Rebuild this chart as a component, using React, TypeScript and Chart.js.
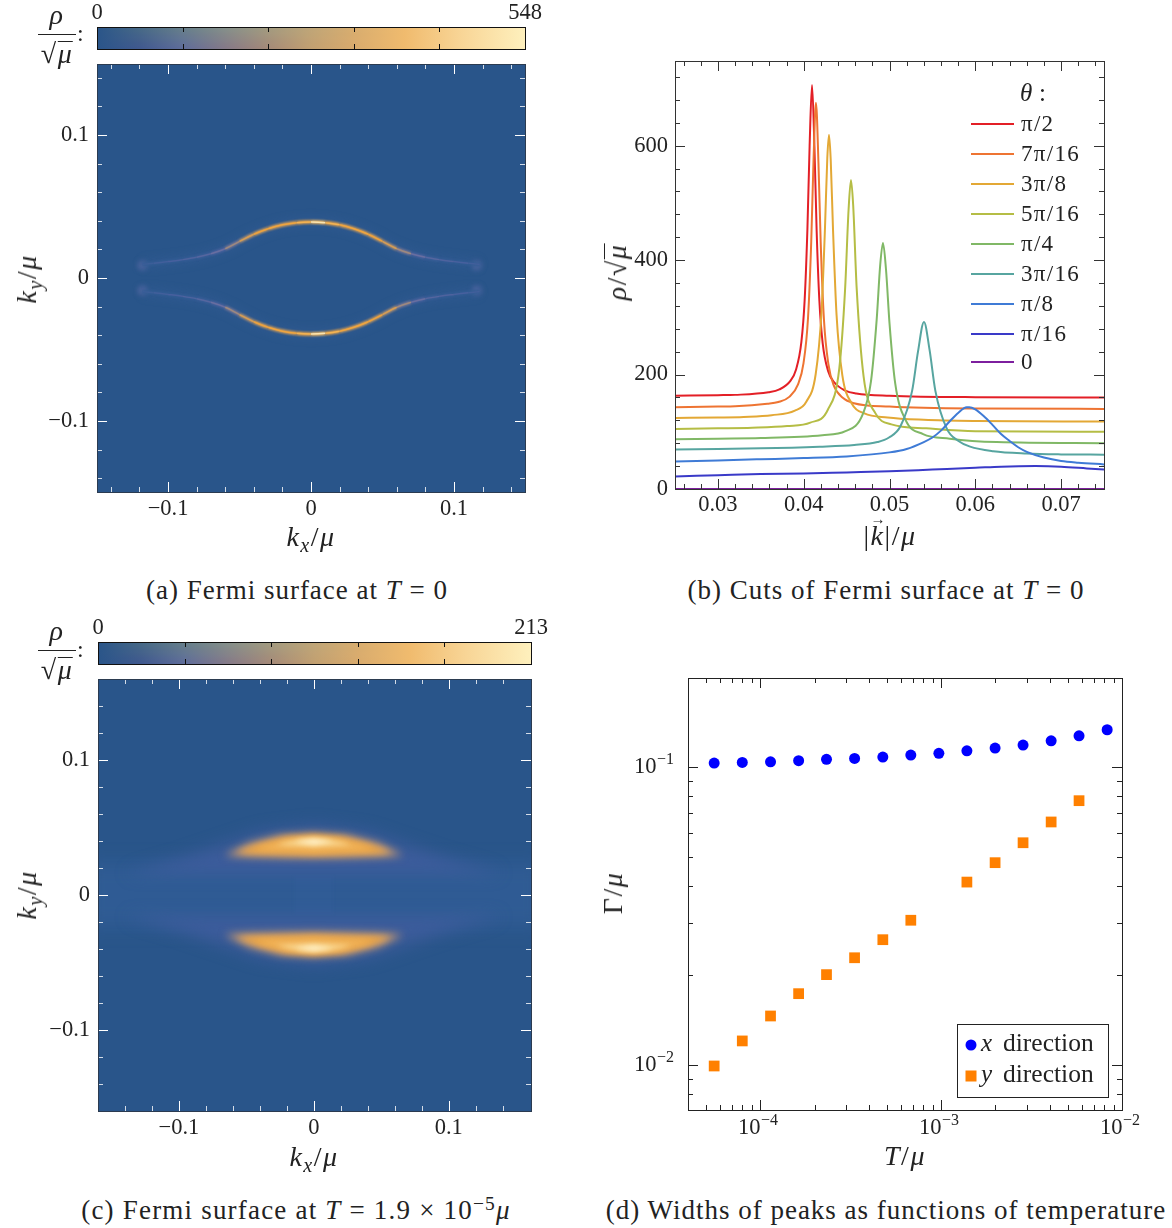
import React, { useEffect, useRef } from "react";
import { Chart, registerables } from "chart.js";

const blurPlugin = {
  id: "blurPlugin",
  beforeDatasetDraw(chart: any, args: any) {
    const b = chart.data.datasets[args.index].blurPx;
    if (b) chart.ctx.filter = `blur(${b}px)`;
  },
  afterDatasetDraw(chart: any) {
    chart.ctx.filter = "none";
  },
};
// registered first, so the blur is already set when the Filler plugin paints
Chart.register(blurPlugin);
Chart.register(...registerables);

const SERIF = '"Liberation Serif", serif';
const TICK_FONT = { family: "Liberation Serif", size: 22.5 };
const PLOT_BG = "#29558a";

// ---- colour bars
const barMaxA = 548;
const barMaxC = 213;
const barRows = ["r0", "r1", "r2", "r3", "r4", "r5", "r6", "r7", "r8", "r9", "r10"];
const barStops = [0, 0.1, 0.2, 0.3, 0.4, 0.5, 0.6, 0.72, 0.85, 1];
const barTopColors = ["#2a5589", "#476a86", "#67808a", "#85908a", "#a39c80", "#bfa678", "#d8ad6f", "#f0bb6e", "#f8d596", "#fef0bd"];
const barBottomColors = ["#2a5589", "#40598f", "#5f6d9a", "#857a88", "#a58a78", "#c2a071", "#d9ab6d", "#f0bb6e", "#f8d596", "#fef0bd"];

// ---- panel (a) : arc of the Fermi surface (right half, mirrored to the left)
const arcAKx = [0, 0.01, 0.02, 0.03, 0.04, 0.05, 0.06, 0.07, 0.08, 0.09, 0.1, 0.11, 0.118];
const arcAKy = [0.0392, 0.0387, 0.0372, 0.0345, 0.0306, 0.0256, 0.0205, 0.017, 0.0145, 0.0128, 0.0115, 0.0103, 0.0095];
const arcAHeat = [0.95, 0.8, 0.74, 0.74, 0.72, 0.62, 0.42, 0.22, 0.14, 0.11, 0.08, 0.05, 0.02];
const blobKx = [-0.118, 0.116, -0.118, 0.116];
const blobKy = [0.0087, 0.0087, -0.0087, -0.0087];
const heatStops = [0, 0.1, 0.25, 0.45, 0.62, 0.75, 0.88, 1];
const heatColors = ["#335c94", "#47609e", "#6a6fa0", "#a08a7c", "#d09c58", "#eea33c", "#f6c069", "#fdf0c8"];

// ---- panel (c) : outlines of the broad crescents, upper half (mirrored for the lower half)
const haloKx = [-0.14, -0.1, -0.07, -0.04, 0, 0.04, 0.07, 0.1, 0.14, 0.1, 0, -0.1];
const haloKy = [0.016, 0.027, 0.037, 0.047, 0.052, 0.047, 0.037, 0.027, 0.016, 0.016, 0.016, 0.016];
const wideKx = [-0.17, 0.17, 0.17, -0.17];
const wideKy = [0.024, 0.024, -0.024, -0.024];
const outerKx = [-0.066, -0.048, -0.025, 0, 0.025, 0.048, 0.066, 0.048, 0.02, 0, -0.02, -0.048];
const outerKy = [0.0295, 0.0385, 0.0445, 0.046, 0.0445, 0.0385, 0.0295, 0.0282, 0.0275, 0.0272, 0.0275, 0.0282];
const orangeKx = [-0.057, -0.04, -0.02, 0, 0.02, 0.04, 0.057, 0.04, 0, -0.04];
const orangeKy = [0.0315, 0.038, 0.043, 0.0445, 0.043, 0.038, 0.0315, 0.0305, 0.0297, 0.0305];
const lightKx = [-0.044, -0.02, 0, 0.02, 0.044, 0.02, 0, -0.02];
const lightKy = [0.034, 0.0405, 0.0425, 0.0405, 0.034, 0.0335, 0.0325, 0.0335];
const coreKx = [-0.028, -0.01, 0, 0.01, 0.028, 0.01, 0, -0.01];
const coreKy = [0.0375, 0.0415, 0.042, 0.0415, 0.0375, 0.0365, 0.036, 0.0365];
const peakKx = [-0.014, 0, 0.014, 0];
const peakKy = [0.0395, 0.0415, 0.0395, 0.0375];
const patchKx = [-0.0148, 0.0148, 0.0148, -0.0148];
const patchKy = [0.014, 0.014, -0.014, -0.014];

// ---- panel (b) : cuts
const cutLabels = ["π/2", "7π/16", "3π/8", "5π/16", "π/4", "3π/16", "π/8", "π/16", "0"];
const cutColors = ["#e31f26", "#ee7432", "#e3a835", "#b5bd45", "#80b866", "#57a5a0", "#3f7bd6", "#3a3ac8", "#7d1f9e"];
const cutRedK = [0.025, 0.03, 0.032, 0.0359, 0.03717, 0.03845, 0.03909, 0.03973, 0.04011, 0.04043, 0.04069, 0.04097, 0.04125, 0.04151, 0.04183, 0.04221, 0.04285, 0.04353, 0.04485, 0.04613, 0.05, 0.06, 0.075];
const cutRedV = [163, 164, 164.5, 169, 174, 189, 208, 257, 330, 453, 600, 706, 598, 451, 328, 255, 206, 187, 172, 167, 163, 160.5, 160];
const cutOrangeK = [0.025, 0.03, 0.032, 0.03576, 0.03704, 0.03832, 0.03934, 0.03998, 0.0405, 0.04088, 0.04114, 0.04143, 0.04172, 0.04198, 0.04236, 0.04288, 0.0435, 0.04459, 0.04586, 0.05, 0.06, 0.075];
const cutOrangeV = [143, 144, 144.5, 149, 152, 161, 183, 220, 298, 433, 572, 675, 570, 431, 296, 218, 181, 159, 150, 144, 140.5, 140];
const cutAmberK = [0.025, 0.03, 0.033, 0.03627, 0.03897, 0.04032, 0.0414, 0.04207, 0.04248, 0.04275, 0.04295, 0.04315, 0.04342, 0.04383, 0.0445, 0.04558, 0.04707, 0.04977, 0.054, 0.06, 0.075];
const cutAmberV = [124, 125, 126, 129, 137, 153, 201, 308, 456, 578, 619, 575, 452, 304, 199, 150, 132, 125, 121, 119, 118];
const cutOliveK = [0.025, 0.03, 0.034, 0.03807, 0.04077, 0.0428, 0.04415, 0.04482, 0.04523, 0.04551, 0.04577, 0.04617, 0.04698, 0.04833, 0.05022, 0.05427, 0.06, 0.075];
const cutOliveV = [105, 106, 107, 110, 116, 138, 211, 348, 488, 540, 495, 352, 197, 133, 113, 106, 101, 100];
const cutGreenK = [0.025, 0.03, 0.035, 0.04217, 0.04487, 0.04689, 0.04784, 0.04851, 0.04892, 0.04924, 0.04959, 0.05, 0.05067, 0.05189, 0.05391, 0.05702, 0.0625, 0.075];
const cutGreenV = [87, 88, 89, 94, 101, 131, 188, 297, 392, 430, 384, 290, 184, 120, 96, 88, 82, 80];
const cutTealK = [0.025, 0.03, 0.035, 0.04184, 0.04589, 0.04859, 0.04994, 0.05129, 0.05264, 0.05332, 0.05402, 0.05467, 0.05534, 0.05669, 0.05804, 0.05939, 0.06209, 0.066, 0.07, 0.075];
const cutTealV = [69, 70, 71, 74, 77, 82, 90, 110, 172, 240, 292, 243, 172, 105, 84, 74, 66, 62, 60.5, 60];
const cutBlueK = [0.025, 0.03, 0.035, 0.04, 0.045, 0.05, 0.052, 0.054, 0.055, 0.056, 0.057, 0.058, 0.059, 0.0593, 0.06, 0.061, 0.062, 0.063, 0.064, 0.065, 0.066, 0.068, 0.07, 0.072, 0.075];
const cutBlueV = [48, 50, 52, 54, 57, 64, 70, 82, 90, 102, 118, 133, 143, 143, 139, 127, 112, 96, 84, 73, 65, 55, 49, 46, 43];
const cutIndigoK = [0.025, 0.03, 0.035, 0.04, 0.045, 0.05, 0.055, 0.06, 0.063, 0.067, 0.07, 0.073, 0.075];
const cutIndigoV = [22, 24, 26, 27, 29, 31, 34, 37, 39, 40, 39, 36, 34];
const cutPurpleK = [0.025, 0.075];
const cutPurpleV = [0, 0];

// ---- panel (d) : widths
const widthT = [5.58e-5, 7.98e-5, 1.143e-4, 1.634e-4, 2.33e-4, 3.33e-4, 4.77e-4, 6.81e-4, 9.73e-4, 1.39e-3, 1.99e-3, 2.84e-3, 4.06e-3, 5.79e-3, 8.28e-3];
const widthX = [0.1031, 0.1036, 0.1041, 0.105, 0.1061, 0.1069, 0.108, 0.1097, 0.1112, 0.1134, 0.1158, 0.1185, 0.1225, 0.1273, 0.1334];
const widthY = [0.00992, 0.01204, 0.0146, 0.01735, 0.0201, 0.0229, 0.02633, 0.0306, null, 0.0411, 0.04775, 0.0557, 0.0654, 0.0771, null];
const logXExponents = ["−4", "−3", "−2"];
const logYExponents = ["−2", "−1"];

const hex = (h: string) => [1, 3, 5].map((i) => parseInt(h.slice(i, i + 2), 16));
const lerpColor = (t: number, stops: number[], colors: string[]) => {
  let i = 0;
  while (i < stops.length - 2 && t > stops[i + 1]) i++;
  const f = Math.max(0, Math.min(1, (t - stops[i]) / (stops[i + 1] - stops[i])));
  const a = hex(colors[i]);
  const b = hex(colors[i + 1]);
  return `rgb(${a.map((v, k) => Math.round(v + (b[k] - v) * f)).join(",")})`;
};
const mirrorRows = (xs: number[], ys: number[]) => {
  const rev = xs.map((_, i) => xs.length - 1 - i);
  return [...rev.slice(0, -1).map((i) => ({ x: -xs[i], y: ys[i] })), ...xs.map((x, i) => ({ x, y: ys[i] }))];
};
const pts = (xs: number[], ys: (number | null)[], sign = 1) => xs.map((x, i) => ({ x, y: ys[i] === null ? null : (ys[i] as number) * sign }));

type Rect = { l: number; t: number; r: number; b: number };
type Box = { x: number; y: number; w: number; h: number };

const range = (a: number, b: number, step: number) => {
  const out: number[] = [];
  for (let i = 0; a + i * step <= b + step * 1e-6; i++) out.push(+(a + i * step).toFixed(6));
  return out;
};
const logMinors = (lo: number, hi: number) => {
  const out: number[] = [];
  for (let e = lo; e <= hi; e++) for (let m = 2; m <= 9; m++) out.push(m * Math.pow(10, e));
  return out;
};

const frameTicks = (c: {
  xMajor: number[]; xMinor: number[]; yMajor: number[]; yMinor: number[];
  tick: string; frame: string; major: number; minor: number; alpha?: number;
}) => ({
  id: "frameTicks",
  afterDatasetsDraw(chart: any) {
    const { ctx, chartArea: a, scales } = chart;
    const X = scales.x, Y = scales.y;
    ctx.save();
    ctx.strokeStyle = c.tick;
    ctx.lineWidth = 1;
    const vt = (v: number, len: number) => {
      const p = Math.round(X.getPixelForValue(v)) + 0.5;
      if (p < a.left || p > a.right) return;
      ctx.beginPath();
      ctx.moveTo(p, a.top); ctx.lineTo(p, a.top + len);
      ctx.moveTo(p, a.bottom); ctx.lineTo(p, a.bottom - len);
      ctx.stroke();
    };
    const ht = (v: number, len: number) => {
      const p = Math.round(Y.getPixelForValue(v)) + 0.5;
      if (p < a.top || p > a.bottom) return;
      ctx.beginPath();
      ctx.moveTo(a.left, p); ctx.lineTo(a.left + len, p);
      ctx.moveTo(a.right, p); ctx.lineTo(a.right - len, p);
      ctx.stroke();
    };
    ctx.globalAlpha = 1;
    c.xMajor.forEach((v) => vt(v, c.major));
    c.yMajor.forEach((v) => ht(v, c.major));
    ctx.globalAlpha = c.alpha ?? 1;
    c.xMinor.forEach((v) => vt(v, c.minor));
    c.yMinor.forEach((v) => ht(v, c.minor));
    ctx.globalAlpha = 1;
    ctx.strokeStyle = c.frame;
    ctx.strokeRect(a.left + 0.5, a.top + 0.5, a.right - a.left, a.bottom - a.top);
    ctx.restore();
  },
});

const plotFill = {
  id: "plotFill",
  beforeDatasetsDraw(chart: any) {
    const { ctx, chartArea: a } = chart;
    ctx.save();
    ctx.fillStyle = PLOT_BG;
    ctx.fillRect(a.left, a.top, a.right - a.left, a.bottom - a.top);
    ctx.restore();
  },
};

const pad = (box: Box, p: Rect) => ({ left: p.l - box.x, top: p.t - box.y, right: box.x + box.w - p.r, bottom: box.y + box.h - p.b });

const linearAxis = (min: number, max: number, vals: number[], labels: string[], fixed: number, horizontal: boolean, padding: number) => ({
  type: "linear",
  min,
  max,
  grid: { display: false, drawTicks: false },
  border: { display: false },
  afterBuildTicks: (s: any) => { s.ticks = vals.map((value) => ({ value })); },
  afterFit: (s: any) => {
    if (horizontal) s.height = fixed; else s.width = fixed;
    s.paddingTop = 0; s.paddingBottom = 0; s.paddingLeft = 0; s.paddingRight = 0;
  },
  ticks: { autoSkip: false, maxRotation: 0, minRotation: 0, padding, color: "#222", font: TICK_FONT, callback: (_: any, i: number) => labels[i] },
});

const heatChart = (box: Box, plot: Rect, xMin: number, xMax: number, yMin: number, yMax: number, datasets: any[]) => {
  const p = pad(box, plot);
  return {
    type: "scatter",
    data: { datasets: datasets.slice().reverse() },
    plugins: [plotFill, frameTicks({
      xMajor: [-0.1, 0, 0.1], xMinor: range(-0.14, 0.14, 0.02).filter((v) => Math.abs(v % 0.1) > 1e-6),
      yMajor: [-0.1, 0, 0.1], yMinor: range(-0.14, 0.14, 0.02).filter((v) => Math.abs(v % 0.1) > 1e-6),
      tick: "#ffffff", frame: "#2b3b50", major: 10, minor: 5, alpha: 0.8,
    })],
    options: {
      responsive: false, animation: false, devicePixelRatio: 1,
      layout: { padding: { left: 0, top: p.top, right: p.right, bottom: 0 } },
      plugins: { legend: { display: false }, tooltip: { enabled: false } },
      scales: {
        x: linearAxis(xMin, xMax, [-0.1, 0, 0.1], ["−0.1", "0", "0.1"], p.bottom, true, 4),
        y: linearAxis(yMin, yMax, [-0.1, 0, 0.1], ["−0.1", "0", "0.1"], p.left, false, 8),
      },
    },
  };
};

const stroke = (data: any[], color: any, width: number, blurPx: number, extra: any = {}) => ({
  data, borderColor: color, borderWidth: width, blurPx, showLine: true, pointRadius: 0, tension: 0.35, borderCapStyle: "butt", ...extra,
});
const area = (xs: number[], ys: number[], sign: number, color: string, blurPx: number) => ({
  data: [...pts(xs, ys, sign), { x: xs[0], y: ys[0] * sign }],
  backgroundColor: color, borderWidth: 0, borderColor: "transparent", fill: "shape", showLine: true, pointRadius: 0, tension: 0, blurPx,
});

const arcDatasets = () => {
  const allHeat = mirrorRows(arcAKx, arcAHeat).map((d) => d.y);
  const heatSeg = (lift = 0) => ({
    borderColor: (c: any) => lerpColor(allHeat[c.p0DataIndex] + lift, heatStops, heatColors),
  });
  const upper = mirrorRows(arcAKx, arcAKy);
  const lower = upper.map((d) => ({ x: d.x, y: -d.y }));
  const out: any[] = [];
  out.push({
    data: pts(blobKx, blobKy), backgroundColor: "rgba(88,105,165,0.7)", borderWidth: 0, pointRadius: 5, blurPx: 2.5, showLine: false,
  });
  [upper, lower].forEach((line) => {
    out.push(stroke(line, "rgba(72,104,170,0.2)", 9, 4));
    out.push(stroke(line, "#5a6aa5", 3.8, 1.2, { segment: heatSeg(-0.1) }));
    out.push(stroke(line, "#eea33c", 1.5, 0.4, { segment: heatSeg(0.02) }));
  });
  return out;
};

const crescentDatasets = () => {
  const out: any[] = [];
  out.push(area(wideKx, wideKy, 1, "rgba(55,100,160,0.45)", 9));
  out.push(area(patchKx, patchKy, 1, "#305c96", 1));
  [1, -1].forEach((s) => {
    out.push(area(haloKx, haloKy, s, "rgba(72,95,165,0.6)", 8));
    out.push(area(outerKx, outerKy, s, "#c79a70", 4));
    out.push(area(orangeKx, orangeKy, s, "#eba544", 3));
    out.push(area(lightKx, lightKy, s, "#f2b65e", 3));
    out.push(area(coreKx, coreKy, s, "#f9d790", 2.5));
    out.push(area(peakKx, peakKy, s, "#fff0c8", 2.5));
  });
  return out;
};

const barChart = (box: Box, plot: Rect, max: number) => {
  const p = pad(box, plot);
  const fifth = range(1, 4, 1).map((i) => (max * i) / 5);
  const grad = (ctx: any) => {
    const chart = ctx.chart;
    const a = chart.chartArea;
    if (!a) return "#000";
    const f = ctx.dataIndex / (barRows.length - 1);
    const g = chart.ctx.createLinearGradient(a.left, 0, a.right, 0);
    barStops.forEach((s, i) => {
      const t = hex(barTopColors[i]);
      const b = hex(barBottomColors[i]);
      g.addColorStop(s, `rgb(${t.map((v, k) => Math.round(v + (b[k] - v) * f)).join(",")})`);
    });
    return g;
  };
  return {
    type: "bar",
    data: { labels: barRows, datasets: [{ data: barRows.map(() => max), backgroundColor: grad, borderWidth: 0, categoryPercentage: 1, barPercentage: 1, inflateAmount: 0.5 }] },
    plugins: [{
      id: "barFrame",
      afterDatasetsDraw(chart: any) {
        const { ctx, chartArea: a, scales } = chart;
        ctx.save();
        ctx.strokeStyle = "#111";
        ctx.lineWidth = 1;
        fifth.forEach((v) => {
          const x = Math.round(scales.x.getPixelForValue(v)) + 0.5;
          ctx.beginPath();
          ctx.moveTo(x, a.top); ctx.lineTo(x, a.top + 5);
          ctx.moveTo(x, a.bottom); ctx.lineTo(x, a.bottom - 5);
          ctx.stroke();
        });
        ctx.strokeRect(a.left + 0.5, a.top + 0.5, a.right - a.left, a.bottom - a.top);
        ctx.restore();
      },
    }],
    options: {
      indexAxis: "y", responsive: false, animation: false, devicePixelRatio: 1,
      layout: { padding: { left: p.left, top: 0, right: p.right, bottom: p.bottom } },
      plugins: { legend: { display: false }, tooltip: { enabled: false } },
      scales: {
        x: { ...linearAxis(0, max, [0, max], ["0", String(max)], p.top, true, 0), position: "top" },
        y: { display: false },
      },
    },
  };
};

const cutsChart = (box: Box, plot: Rect) => {
  const p = pad(box, plot);
  const series: [number[], number[]][] = [
    [cutRedK, cutRedV], [cutOrangeK, cutOrangeV], [cutAmberK, cutAmberV], [cutOliveK, cutOliveV], [cutGreenK, cutGreenV],
    [cutTealK, cutTealV], [cutBlueK, cutBlueV], [cutIndigoK, cutIndigoV], [cutPurpleK, cutPurpleV],
  ];
  return {
    type: "scatter",
    data: {
      datasets: series.map(([k, v], i) => ({
        label: cutLabels[i], data: pts(k, v), borderColor: cutColors[i], borderWidth: 2, showLine: true, pointRadius: 0,
        cubicInterpolationMode: "monotone", order: series.length - i,
      })),
    },
    plugins: [frameTicks({
      xMajor: [0.03, 0.04, 0.05, 0.06, 0.07], xMinor: range(0.026, 0.074, 0.002), yMajor: [0, 200, 400, 600], yMinor: range(40, 720, 40),
      tick: "#333", frame: "#333", major: 10, minor: 5,
    }), {
      id: "cutLegend",
      afterDraw(chart: any) {
        const { ctx } = chart;
        ctx.save();
        ctx.textBaseline = "middle";
        ctx.fillStyle = "#222";
        ctx.font = `italic 25px ${SERIF}`;
        ctx.fillText("θ", 1020 - box.x, 94 - box.y);
        ctx.font = `25px ${SERIF}`;
        ctx.fillText(":", 1039 - box.x, 94 - box.y);
        const rows = [124, 154, 184, 214, 244, 274, 304, 334, 362];
        rows.forEach((y, i) => {
          ctx.strokeStyle = cutColors[i];
          ctx.lineWidth = 2;
          ctx.beginPath();
          ctx.moveTo(971 - box.x, y - box.y); ctx.lineTo(1014 - box.x, y - box.y);
          ctx.stroke();
          ctx.fillStyle = "#222";
          ctx.font = `23px ${SERIF}`;
          ctx.letterSpacing = "1.3px";
          ctx.fillText(cutLabels[i], 1021 - box.x, y + 1 - box.y);
          ctx.letterSpacing = "0px";
        });
        ctx.restore();
      },
    }],
    options: {
      responsive: false, animation: false, devicePixelRatio: 1,
      layout: { padding: { left: 0, top: p.top, right: p.right, bottom: 0 } },
      plugins: { legend: { display: false }, tooltip: { enabled: false } },
      scales: {
        x: linearAxis(0.025, 0.075, [0.03, 0.04, 0.05, 0.06, 0.07], ["0.03", "0.04", "0.05", "0.06", "0.07"], p.bottom, true, 3),
        y: linearAxis(0, 748, [0, 200, 400, 600], ["0", "200", "400", "600"], p.left, false, 7),
      },
    },
  };
};

const widthsChart = (box: Box, plot: Rect) => {
  const p = pad(box, plot);
  const logAxis = (min: number, max: number, vals: number[], fixed: number, horizontal: boolean) => {
    const base = linearAxis(min, max, vals, vals.map(() => ""), fixed, horizontal, 0);
    return { ...base, type: "logarithmic", ticks: { ...base.ticks, display: false } };
  };
  return {
    type: "scatter",
    data: {
      datasets: [
        { label: "x direction", data: pts(widthT, widthX), backgroundColor: "#0000ff", borderWidth: 0, pointStyle: "circle", pointRadius: 5.5 },
        { label: "y direction", data: pts(widthT, widthY), backgroundColor: "#ff8000", borderWidth: 0, pointStyle: "rect", pointRadius: 7.6 },
      ],
    },
    plugins: [frameTicks({
      xMajor: [1e-4, 1e-3, 1e-2], xMinor: logMinors(-5, -3).filter((v) => v > 4e-5 && v < 1e-2),
      yMajor: [1e-2, 1e-1], yMinor: logMinors(-3, -1).filter((v) => v > 7e-3 && v < 0.2),
      tick: "#222", frame: "#222", major: 10, minor: 5,
    }), {
      id: "powerTicks",
      afterDraw(chart: any) {
        const { ctx, scales, chartArea: a } = chart;
        ctx.save();
        ctx.fillStyle = "#222";
        ctx.textBaseline = "middle";
        const draw = (exp: string, left: number, cy: number) => {
          ctx.font = `22.5px ${SERIF}`;
          ctx.fillText("10", left, cy);
          ctx.font = `16px ${SERIF}`;
          ctx.fillText(exp, left + 23, cy - 7);
        };
        scales.x.ticks.forEach((t: any, i: number) => {
          draw(logXExponents[i], scales.x.getPixelForValue(t.value) - 22, a.bottom + 18);
        });
        scales.y.ticks.forEach((t: any, i: number) => {
          draw(logYExponents[i], a.left - 54, scales.y.getPixelForValue(t.value));
        });
        ctx.restore();
      },
    }, {
      id: "widthLegend",
      afterDraw(chart: any) {
        const { ctx } = chart;
        const ox = box.x, oy = box.y;
        ctx.save();
        ctx.fillStyle = "#fff";
        ctx.strokeStyle = "#222";
        ctx.lineWidth = 1;
        ctx.fillRect(957 - ox, 1024 - oy, 151, 73);
        ctx.strokeRect(957.5 - ox, 1024.5 - oy, 151, 73);
        ctx.fillStyle = "#0000ff";
        ctx.beginPath();
        ctx.arc(971 - ox, 1045 - oy, 5.5, 0, Math.PI * 2);
        ctx.fill();
        ctx.fillStyle = "#ff8000";
        ctx.fillRect(965.5 - ox, 1070.5 - oy, 11, 11);
        ctx.fillStyle = "#222";
        ctx.textBaseline = "middle";
        [["x", 1044], ["y", 1075]].forEach(([s, y]: any) => {
          ctx.font = `italic 25px ${SERIF}`;
          ctx.fillText(s, 981 - ox, y - oy);
          ctx.font = `25.5px ${SERIF}`;
          ctx.fillText("direction", 1003 - ox, y - oy);
        });
        ctx.restore();
      },
    }],
    options: {
      responsive: false, animation: false, devicePixelRatio: 1,
      layout: { padding: { left: 0, top: p.top, right: p.right, bottom: 0 } },
      plugins: { legend: { display: false }, tooltip: { enabled: false } },
      scales: {
        x: logAxis(4e-5, 1e-2, [1e-4, 1e-3, 1e-2], p.bottom, true),
        y: logAxis(7.06e-3, 0.199, [1e-2, 1e-1], p.left, false),
      },
    },
  };
};

const Panel = ({ box, make }: { box: Box; make: () => any }) => {
  const ref = useRef<HTMLCanvasElement>(null);
  useEffect(() => {
    const chart = new Chart(ref.current as any, make());
    return () => chart.destroy();
  }, []);
  return <canvas ref={ref} width={box.w} height={box.h} style={{ position: "absolute", left: box.x, top: box.y, display: "block" }} />;
};

const Txt = ({ x, y, rot = 0, size = 28, spacing = 1.5, children }: any) => (
  <div style={{
    position: "absolute", left: x, top: y, transform: `translate(-50%,-50%) rotate(${rot}deg)`, fontFamily: SERIF, fontSize: size,
    color: "#222", whiteSpace: "nowrap", lineHeight: 1, letterSpacing: spacing,
  }}>{children}</div>
);
const Sub = ({ children }: any) => <i style={{ fontSize: "0.72em", verticalAlign: "-0.28em", lineHeight: 0 }}>{children}</i>;
const Sup = ({ children }: any) => <span style={{ fontSize: "0.72em", verticalAlign: "0.42em", lineHeight: 0 }}>{children}</span>;
const Root = () => (
  <span>√<span style={{ display: "inline-block", borderTop: "1.2px solid #222", lineHeight: 0.72, paddingTop: 2, verticalAlign: "baseline" }}><i>μ</i></span></span>
);

const Fraction = ({ y }: { y: number }) => (
  <>
    <Txt x={57} y={y - 19} size={28}><i>ρ</i></Txt>
    <div style={{ position: "absolute", left: 38, top: y, width: 38, height: 1.3, background: "#222" }} />
    <Txt x={57} y={y + 20} size={28}><Root /></Txt>
    <Txt x={81} y={y - 1} size={24}>:</Txt>
  </>
);

const boxA: Box = { x: 0, y: 55, w: 570, h: 472 };
const plotA: Rect = { l: 97, t: 64, r: 525, b: 492 };
const boxBarA: Box = { x: 60, y: 0, w: 510, h: 55 };
const plotBarA: Rect = { l: 97, t: 27, r: 525, b: 49 };
const boxB: Box = { x: 590, y: 50, w: 582, h: 480 };
const plotB: Rect = { l: 675, t: 61, r: 1104, b: 489 };
const boxC: Box = { x: 0, y: 670, w: 570, h: 472 };
const plotC: Rect = { l: 98, t: 679, r: 531, b: 1111 };
const boxBarC: Box = { x: 60, y: 615, w: 510, h: 55 };
const plotBarC: Rect = { l: 98, t: 642, r: 531, b: 664 };
const boxD: Box = { x: 590, y: 668, w: 582, h: 480 };
const plotD: Rect = { l: 688, t: 678, r: 1122, b: 1110 };

export default function App() {
  return (
    <div style={{ position: "absolute", left: 0, top: 0, width: 1172, height: 1228, overflow: "hidden", background: "#fff" }}>
      <Panel box={boxBarA} make={() => barChart(boxBarA, plotBarA, barMaxA)} />
      <Panel box={boxA} make={() => heatChart(boxA, plotA, -0.1497, 0.1497, -0.1497, 0.1497, arcDatasets())} />
      <Panel box={boxB} make={() => cutsChart(boxB, plotB)} />
      <Panel box={boxBarC} make={() => barChart(boxBarC, plotBarC, barMaxC)} />
      <Panel box={boxC} make={() => heatChart(boxC, plotC, -0.16, 0.161, -0.16, 0.16, crescentDatasets())} />
      <Panel box={boxD} make={() => widthsChart(boxD, plotD)} />

      <Fraction y={34} />
      <Fraction y={650} />

      <Txt x={311} y={537}><i>k</i><Sub>x</Sub>/<i>μ</i></Txt>
      <Txt x={27} y={279} rot={-90}><i>k</i><Sub>y</Sub>/<i>μ</i></Txt>
      <Txt x={617} y={272} rot={-90}><i>ρ</i>/<Root /></Txt>
      <Txt x={890} y={536}>
        |<span style={{ position: "relative" }}><i>k</i><span style={{ position: "absolute", left: 0, top: -8, fontSize: 15 }}>→</span></span>|/<i>μ</i>
      </Txt>
      <Txt x={314} y={1157}><i>k</i><Sub>x</Sub>/<i>μ</i></Txt>
      <Txt x={27} y={895} rot={-90}><i>k</i><Sub>y</Sub>/<i>μ</i></Txt>
      <Txt x={613} y={893} rot={-90}>Γ/<i>μ</i></Txt>
      <Txt x={905} y={1156}><i>T</i>/<i>μ</i></Txt>

      <Txt x={297} y={590} size={27} spacing={1}>(a) Fermi surface at <i>T</i> = 0</Txt>
      <Txt x={886} y={590} size={27} spacing={1}>(b) Cuts of Fermi surface at <i>T</i> = 0</Txt>
      <Txt x={296} y={1210} size={27} spacing={1.2}>(c) Fermi surface at <i>T</i> = 1.9 × 10<Sup>−5</Sup><i>μ</i></Txt>
      <Txt x={886} y={1210} size={27} spacing={1}>(d) Widths of peaks as functions of temperature</Txt>
    </div>
  );
}
